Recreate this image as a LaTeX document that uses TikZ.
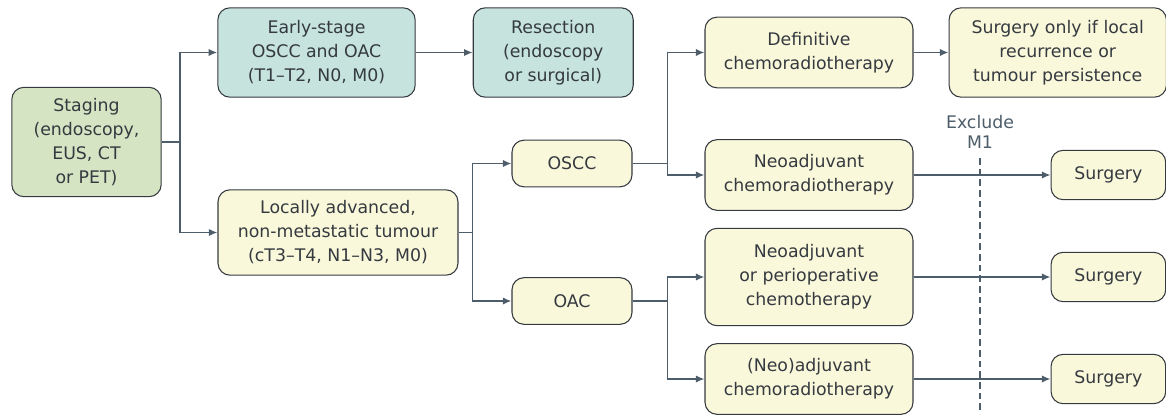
\documentclass[tikz,border=0pt]{standalone}
\usepackage{fontspec}
\setmainfont{DejaVu Sans}
\usepackage{tikz}
\usetikzlibrary{arrows.meta,positioning}
\definecolor{Sage}{HTML}{D5E4C3}
\definecolor{Aqua}{HTML}{C6E3DE}
\definecolor{Cream}{HTML}{FAF8DA}
\definecolor{Slate}{HTML}{4D5D69}
\definecolor{Ink}{HTML}{353A40}

\begin{document}
\begin{tikzpicture}[x=0.75pt, y=-0.75pt, >=Latex,
    box/.style={draw=Ink, line width=0.8pt, rounded corners=9pt, align=center, text=Ink,
      inner sep=2pt, font=\fontsize{13}{18}\selectfont},
    smallbox/.style={box, fill=Cream, minimum width=90pt, minimum height=35pt},
    cutbox/.style={box, fill=Cream, minimum width=86pt, minimum height=37pt},
    link/.style={draw=Slate, line width=1.2pt, -{Latex[length=6.5pt, width=5.5pt]}}]
    \useasboundingbox (0,0) rectangle (1166,414);
    % staging and first split
    \node[box, fill=Sage, minimum width=112pt, minimum height=82pt] (staging) at (86.5,142) {Staging\\(endoscopy,\\EUS, CT\\or PET)};
    \node[box, fill=Aqua, minimum width=148pt, minimum height=67pt] (early) at (316.5,52.5) {Early-stage\\OSCC and OAC\\(T1--T2, N0, M0)};
    \node[box, fill=Aqua, minimum width=120pt, minimum height=67pt, right=42.75pt of early] (resect) {Resection\\(endoscopy\\or surgical)};
    \node[box, fill=Cream, minimum width=180pt, minimum height=64pt] (locally) at (338,232.5) {Locally advanced,\\non-metastatic tumour\\(cT3--T4, N1--N3, M0)};
    \node[smallbox] (oscc) at (572,163.5) {OSCC};
    \node[smallbox] (oac) at (572,301) {OAC};
    % treatment column
    \node[box, fill=Cream, minimum width=156pt, minimum height=53pt] (defcrt) at (809,52.5) {Definitive\\chemoradiotherapy};
    \node[box, fill=Cream, minimum width=163pt, minimum height=67pt, right=26.25pt of defcrt] (salvage) {Surgery only if local\\recurrence or\\tumour persistence};
    \node[box, fill=Cream, minimum width=156pt, minimum height=53pt] (neocrt) at (809,175) {Neoadjuvant\\chemoradiotherapy};
    \node[box, fill=Cream, minimum width=156pt, minimum height=73pt] (neochemo) at (809,277) {Neoadjuvant\\or perioperative\\chemotherapy};
    \node[box, fill=Cream, minimum width=156pt, minimum height=53pt] (adjcrt) at (809,379) {(Neo)adjuvant\\chemoradiotherapy};
    \node[cutbox, right=102.75pt of neocrt] (surgA) {Surgery};
    \node[cutbox, right=102.75pt of neochemo] (surgB) {Surgery};
    \node[cutbox, right=102.75pt of adjcrt] (surgC) {Surgery};
    % M1 cut-off
    \node[align=center, text=Slate, font=\fontsize{13}{15}\selectfont] (excl) at (980,132) {Exclude\\M1};
    \coordinate (cutTop) at (980,158);
    \coordinate (cutBot) at (980,414);
    \draw[Slate, line width=1pt, dash pattern=on 5pt off 3pt] (cutTop) -- (cutBot);
    % connectors
    \draw[link] (staging.east) -- ++(18.5,0) |- (early.west);
    \draw[link] (staging.east) -- ++(18.5,0) |- (locally.west);
    \draw[link] (early) -- (resect);
    \draw[link] (locally.east) -- ++(14,0) |- (oscc.west);
    \draw[link] (locally.east) -- ++(14,0) |- (oac.west);
    \draw[link] (oscc.east) -- ++(35,0) |- (defcrt.west);
    \draw[link] (oscc.east) -- ++(35,0) |- (neocrt.west);
    \draw[link] (oac.east) -- ++(35,0) |- (neochemo.west);
    \draw[link] (oac.east) -- ++(35,0) |- (adjcrt.west);
    \draw[link] (defcrt) -- (salvage);
    \draw[link] (neocrt) -- (surgA);
    \draw[link] (neochemo) -- (surgB);
    \draw[link] (adjcrt) -- (surgC);
\end{tikzpicture}
\end{document}
